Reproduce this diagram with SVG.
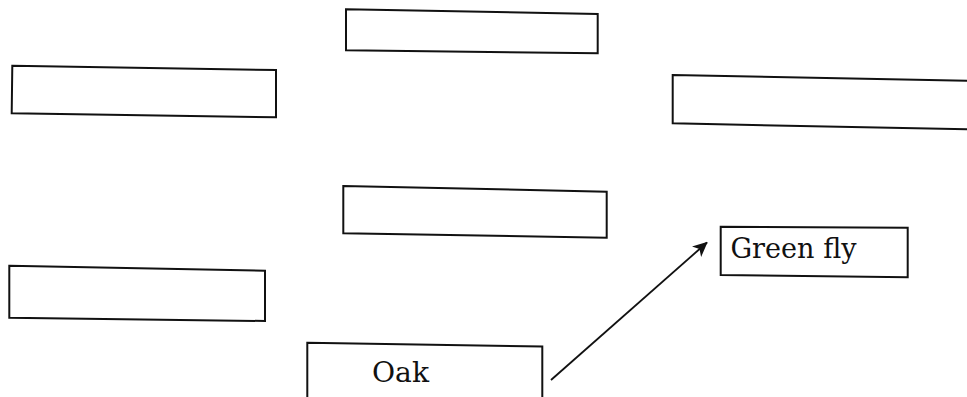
<svg xmlns="http://www.w3.org/2000/svg" width="967" height="397" viewBox="0 0 967 397">
<defs>
<style>
.box{fill:#fff;stroke:#111;stroke-width:2;stroke-linejoin:miter}
.lbl{font-family:"DejaVu Serif","Liberation Serif",serif;font-size:28px;fill:#111}
.conn{stroke:#111;stroke-width:1.8;fill:none}
</style>
<marker id="ah" markerWidth="15" markerHeight="14" refX="14" refY="7" orient="auto" markerUnits="userSpaceOnUse" viewBox="0 0 15 14">
<path d="M0,0 L15,7 L0,14 L4,7 Z" fill="#111"/>
</marker>
</defs>
<rect width="967" height="397" fill="#fff"/>
<g id="box-left-top"><polygon class="box" points="12.3,65.7 276,70 276,117.3 11.7,113.3"/></g>
<g id="box-top-center"><polygon class="box" points="346,9.3 597.7,14 597.7,53.3 346,50.3"/></g>
<g id="box-right"><polygon class="box" points="672.7,75 975,81 975,129.5 672.7,123.3"/></g>
<g id="box-center-mid"><polygon class="box" points="343.3,186 606.7,191.7 606.7,237.7 343.3,233.3"/></g>
<g id="box-left-bottom"><polygon class="box" points="9.3,265.7 265,270.7 265,321 9.3,317.7"/></g>
<g id="node-oak"><polygon class="box" points="307.3,342.7 542.3,346.5 542.3,405 307.3,405"/><text class="lbl" x="372" y="381.7" textLength="57" lengthAdjust="spacingAndGlyphs">Oak</text></g>
<g id="node-greenfly"><polygon class="box" points="720.7,226.7 907.7,227.7 907.7,277.3 720.7,275"/><text class="lbl" x="730.5" y="258.3" textLength="126" lengthAdjust="spacingAndGlyphs">Green fly</text></g>
<g id="connectors"><line class="conn" x1="551" y1="380" x2="707" y2="242.5" marker-end="url(#ah)"/></g>
</svg>
